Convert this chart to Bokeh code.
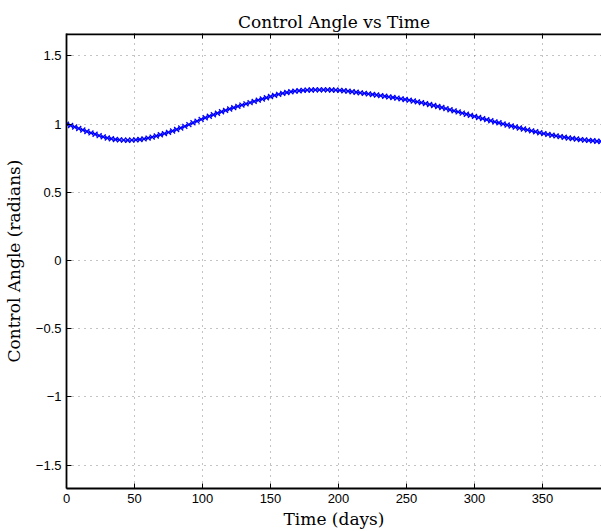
import math
from bokeh.plotting import figure
from bokeh.models import FixedTicker, Range1d, Span
from bokeh.embed import file_html
from bokeh.resources import INLINE

# Time (days) and control angle (radians)
days = [0, 3, 6, 9, 12, 15, 18, 21, 24, 27, 30, 33, 36, 39, 42, 45, 48, 51, 54, 57,
        60, 63, 66, 69, 72, 75, 78, 81, 84, 87, 90, 93, 96, 99, 102, 105, 108, 111, 114, 117,
        120, 123, 126, 129, 132, 135, 138, 141, 144, 147, 150, 153, 156, 159, 162, 165, 168, 171, 174, 177,
        180, 183, 186, 189, 192, 195, 198, 201, 204, 207, 210, 213, 216, 219, 222, 225, 228, 231, 234, 237,
        240, 243, 246, 249, 252, 255, 258, 261, 264, 267, 270, 273, 276, 279, 282, 285, 288, 291, 294, 297,
        300, 303, 306, 309, 312, 315, 318, 321, 324, 327, 330, 333, 336, 339, 342, 345, 348, 351, 354, 357,
        360, 363, 366, 369, 372, 375, 378, 381, 384, 387, 390, 393]
angle = [1.000, 0.990, 0.979, 0.968, 0.957, 0.946, 0.936, 0.926, 0.916, 0.907, 0.899, 0.893, 0.888, 0.885, 0.883, 0.882, 0.883, 0.885, 0.888, 0.892,
         0.898, 0.905, 0.913, 0.922, 0.931, 0.940, 0.950, 0.961, 0.972, 0.984, 0.997, 1.010, 1.022, 1.035, 1.047, 1.058, 1.069, 1.080, 1.091, 1.101,
         1.111, 1.121, 1.131, 1.140, 1.149, 1.158, 1.167, 1.176, 1.185, 1.194, 1.203, 1.211, 1.219, 1.226, 1.232, 1.238, 1.242, 1.245, 1.248, 1.250,
         1.251, 1.252, 1.252, 1.252, 1.252, 1.251, 1.250, 1.248, 1.245, 1.242, 1.238, 1.234, 1.230, 1.226, 1.222, 1.218, 1.214, 1.209, 1.205, 1.200,
         1.196, 1.191, 1.186, 1.181, 1.176, 1.170, 1.164, 1.158, 1.151, 1.144, 1.137, 1.130, 1.122, 1.114, 1.106, 1.098, 1.090, 1.081, 1.073, 1.065,
         1.057, 1.049, 1.041, 1.033, 1.025, 1.017, 1.010, 1.002, 0.994, 0.987, 0.979, 0.972, 0.965, 0.958, 0.951, 0.944, 0.937, 0.931, 0.925, 0.919,
         0.914, 0.909, 0.904, 0.899, 0.895, 0.891, 0.887, 0.884, 0.881, 0.878, 0.875, 0.873]

x_ticks = [0, 50, 100, 150, 200, 250, 300, 350]
y_ticks = [-1.5, -1, -0.5, 0, 0.5, 1, 1.5]
y_tick_labels = ["\u22121.5", "\u22121", "\u22120.5", "0", "0.5", "1", "1.5"]
X_MIN, X_MAX = 0, 393.4
Y_MIN, Y_MAX = -1.672, 1.665

SERIF = "DejaVu Serif"
SANS = "Liberation Sans"

p = figure(width=601, height=531, output_backend="svg", toolbar_location=None,
           x_range=Range1d(X_MIN, X_MAX), y_range=Range1d(Y_MIN, Y_MAX),
           min_border_left=66, min_border_right=0, min_border_top=33, min_border_bottom=43,
           title="Control Angle vs Time")
p.background_fill_color = "white"
p.border_fill_color = "white"
p.outline_line_color = None

bottom = p.below[0]
left = p.left[0]

p.title.align = "center"
p.title.offset = 14
p.title.text_font = SERIF
p.title.text_font_style = "normal"
p.title.text_font_size = "17px"
p.title.text_color = "black"
p.title.standoff = 4

p.xgrid.ticker = FixedTicker(ticks=x_ticks)
p.ygrid.ticker = FixedTicker(ticks=y_ticks)
for g in (p.xgrid[0], p.ygrid[0]):
    g.grid_line_color = "#555555"
    g.grid_line_alpha = 0.7
    g.grid_line_dash = "1 5"
    g.grid_line_width = 1

# box top edge with inward ticks (MATLAB-style box)
p.add_layout(Span(location=Y_MAX, dimension="width", line_color="black", line_width=3.6))
p.scatter(x_ticks, [Y_MAX] * len(x_ticks), marker="dash", angle=math.pi / 2, size=10,
          line_color="black", line_width=1)

p.line(days, angle, line_color="#0000ff", line_width=1.2)
p.scatter(days, angle, marker="x", size=7, line_color="#0000ff", line_width=1.3)

for ax in (bottom, left):
    ax.axis_line_color = "black"
    ax.axis_line_width = 1.8
    ax.major_tick_in = 5
    ax.major_tick_out = 0
    ax.minor_tick_in = 0
    ax.minor_tick_out = 0
    ax.major_tick_line_color = "black"
    ax.major_label_text_color = "black"
    ax.major_label_text_font = SANS
    ax.major_label_text_font_size = "13px"
    ax.major_label_standoff = 5
    ax.axis_label_text_font = SERIF
    ax.axis_label_text_font_style = "normal"
    ax.axis_label_text_font_size = "17px"
    ax.axis_label_text_color = "black"

bottom.ticker = FixedTicker(ticks=x_ticks)
left.ticker = FixedTicker(ticks=y_ticks)
left.major_label_overrides = {v: s for v, s in zip(y_ticks, y_tick_labels)}
bottom.axis_label = "Time (days)"
left.axis_label = "Control Angle (radians)"
bottom.axis_label_standoff = 3
left.axis_label_standoff = 9

out = file_html(p, INLINE)
open("out.html", "w").write(out)
